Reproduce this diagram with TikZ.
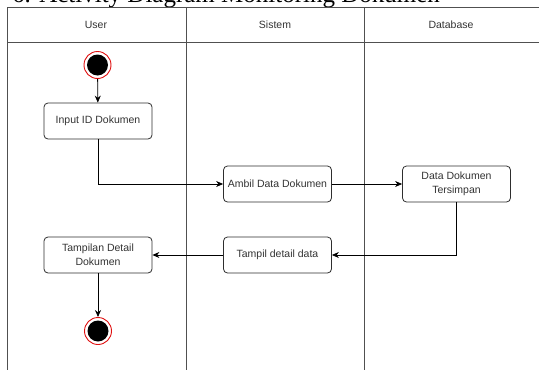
\documentclass[tikz,border=0pt]{standalone}
\usepackage{fontspec}
\setmainfont{Liberation Sans}
\newfontfamily\capfont{Liberation Serif}
\usetikzlibrary{arrows.meta}
\definecolor{lanecol}{HTML}{505050}
\definecolor{boxcol}{HTML}{2E2E2E}
\definecolor{txtcol}{HTML}{333333}
\definecolor{ringred}{HTML}{E01010}
\tikzset{
  lane/.style={draw=lanecol, line width=1pt},
  actbox/.style={draw=boxcol, line width=0.8pt, rounded corners=4pt, minimum width=108pt, minimum height=36pt, inner sep=1pt, align=center, font=\fontsize{10.5}{14}\selectfont, text=txtcol},
  hdr/.style={font=\fontsize{10.5}{13}\selectfont, text=txtcol},
  flow/.style={draw=black, line width=0.8pt, -{Stealth[length=7pt,width=6pt]}},
  startnode/.style={circle, fill=black, minimum size=21pt, inner sep=0pt, draw=white, line width=1.5pt, double=ringred, double distance=0.8pt},
}
\begin{document}
\begin{tikzpicture}[x=1pt,y=-1pt]
\useasboundingbox (0,0) rectangle (539,370);
\clip (0,0) rectangle (539,370);
\fill[white] (0,0) rectangle (539,370);
% caption (clipped at top)
\node[anchor=base west, inner sep=0pt, font=\capfont\fontsize{25}{28}\selectfont] (cap) at (12,2.5) {6. Activity Diagram Monitoring Dokumen};
% swimlanes
\draw[lane] (7,370) -- (7,7) -- (545,7);
\draw[lane] (7,42) -- (545,42);
\draw[lane] (186,7) -- (186,375);
\draw[lane] (364,7) -- (364,375);
\node[hdr] (hu) at (96,25) {User};
\node[hdr] (hs) at (275,25) {Sistem};
\node[hdr] (hd) at (451,25) {Database};
% nodes
\node[circle, draw=ringred, line width=0.9pt, minimum size=27pt, inner sep=0pt] (start) at (97.5,65) {};
\fill[black] (start.center) circle (10.5pt);
\node[actbox] (input) at (98,121) {Input ID Dokumen};
\node[actbox] (ambil) at (277.5,184) {Ambil Data Dokumen};
\node[actbox] (simpan) at (456.5,184) {Data Dokumen\\Tersimpan};
\node[actbox] (tampil) at (277.5,255) {Tampil detail data};
\node[actbox] (detail) at (98,255) {Tampilan Detail\\Dokumen};
\node[circle, draw=ringred, line width=0.9pt, minimum size=27pt, inner sep=0pt] (end) at (98,331) {};
\fill[black] (end.center) circle (10.5pt);
% flows
\draw[flow] (start) -- (input);
\draw[flow] (input.south) |- (ambil.west);
\draw[flow] (ambil) -- (simpan);
\draw[flow] (simpan.south) |- (tampil.east);
\draw[flow] (tampil) -- (detail);
\draw[flow] (detail) -- (end);
\end{tikzpicture}
\end{document}
